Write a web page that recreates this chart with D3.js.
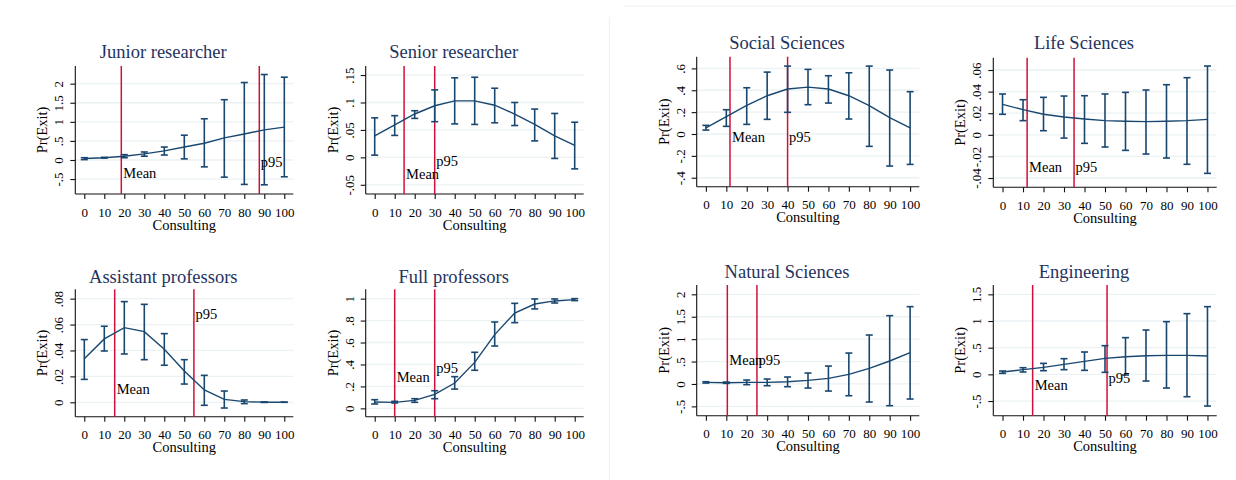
<!DOCTYPE html>
<html>
<head>
<meta charset="utf-8">
<script src="https://cdn.jsdelivr.net/npm/d3@7"></script>
<style>
  body { margin: 0; background: #fff; }
  svg text { font-family: "Liberation Serif", "Times New Roman", serif; }
</style>
</head>
<body>
<div id="chart"></div>
<script>
// Consulting levels (x axis)
const consulting = [0, 10, 20, 30, 40, 50, 60, 70, 80, 90, 100];
const xTicks = [0, 10, 20, 30, 40, 50, 60, 70, 80, 90, 100];

const panelTitles = ["Junior researcher", "Senior researcher", "Assistant professors", "Full professors",
                     "Social Sciences", "Life Sciences", "Natural Sciences", "Engineering"];

// predicted Pr(Exit) with 95% CI, one set per panel
const estJunior = [0.04, 0.06, 0.10, 0.16, 0.24, 0.34, 0.44, 0.58, 0.68, 0.79, 0.86];
const loJunior  = [0.01, 0.05, 0.06, 0.10, 0.13, 0.03, -0.18, -0.45, -0.64, -0.65, -0.44];
const hiJunior  = [0.06, 0.07, 0.14, 0.21, 0.34, 0.65, 1.08, 1.58, 2.03, 2.24, 2.17];

const estSenior = [0.039, 0.059, 0.079, 0.094, 0.103, 0.103, 0.095, 0.079, 0.060, 0.039, 0.022];
const loSenior  = [0.004, 0.040, 0.071, 0.065, 0.061, 0.060, 0.063, 0.058, 0.030, -0.002, -0.021];
const hiSenior  = [0.072, 0.076, 0.085, 0.123, 0.145, 0.146, 0.126, 0.100, 0.088, 0.080, 0.064];

const estAssist = [0.0337, 0.0489, 0.0576, 0.0545, 0.0409, 0.0242, 0.0095, 0.0023, 0.0005, 0.0001, 0.00003];
const loAssist  = [0.0177, 0.0396, 0.0373, 0.0329, 0.0286, 0.0141, -0.0023, -0.0044, -0.0010, -0.0001, 0];
const hiAssist  = [0.0484, 0.0587, 0.0777, 0.0756, 0.0530, 0.0329, 0.0208, 0.0087, 0.0018, 0.0003, 0.0001];

const estFull = [0.058, 0.055, 0.073, 0.128, 0.231, 0.419, 0.672, 0.869, 0.951, 0.979, 0.991];
const loFull  = [0.040, 0.049, 0.055, 0.088, 0.176, 0.347, 0.568, 0.781, 0.906, 0.960, 0.982];
const hiFull  = [0.079, 0.064, 0.088, 0.161, 0.289, 0.511, 0.787, 0.957, 0.997, 0.997, 0.9999];

const estSocial = [0.057, 0.158, 0.262, 0.350, 0.411, 0.429, 0.411, 0.350, 0.259, 0.149, 0.057];
const loSocial  = [0.036, 0.070, 0.088, 0.134, 0.198, 0.268, 0.283, 0.137, -0.113, -0.293, -0.278];
const hiSocial  = [0.079, 0.222, 0.423, 0.566, 0.621, 0.591, 0.533, 0.560, 0.621, 0.585, 0.387];

const estLife = [0.0282, 0.0233, 0.0190, 0.0165, 0.0146, 0.0131, 0.0125, 0.0122, 0.0125, 0.0131, 0.0143];
const loLife  = [0.0190, 0.0131, 0.0038, -0.0030, -0.0079, -0.0113, -0.0144, -0.0178, -0.0215, -0.0273, -0.0357];
const hiLife  = [0.0378, 0.0325, 0.0347, 0.0359, 0.0362, 0.0378, 0.0393, 0.0415, 0.0464, 0.0529, 0.0637];

const estNatural = [0.036, 0.028, 0.036, 0.036, 0.050, 0.080, 0.125, 0.214, 0.348, 0.512, 0.698];
const loNatural  = [0.020, 0.013, -0.016, -0.039, -0.061, -0.091, -0.158, -0.262, -0.403, -0.485, -0.336];
const hiNatural  = [0.050, 0.043, 0.088, 0.110, 0.155, 0.244, 0.400, 0.690, 1.092, 1.524, 1.725];

const estEng = [0.044, 0.088, 0.131, 0.188, 0.244, 0.300, 0.331, 0.350, 0.356, 0.356, 0.344];
const loEng  = [0.019, 0.044, 0.069, 0.088, 0.075, 0.038, -0.013, -0.125, -0.256, -0.419, -0.594];
const hiEng  = [0.063, 0.125, 0.206, 0.294, 0.419, 0.538, 0.688, 0.831, 0.988, 1.138, 1.269];

// y axis ticks and labels per panel
const yTicks = [
  [-0.5, 0, 0.5, 1, 1.5, 2],
  [-0.05, 0, 0.05, 0.1, 0.15],
  [0, 0.02, 0.04, 0.06, 0.08],
  [0, 0.2, 0.4, 0.6, 0.8, 1],
  [-0.4, -0.2, 0, 0.2, 0.4, 0.6],
  [-0.04, -0.02, 0, 0.02, 0.04, 0.06],
  [-0.5, 0, 0.5, 1, 1.5, 2],
  [-0.5, 0, 0.5, 1, 1.5]
];
const yTickLabels = [
  ["-.5", "0", ".5", "1", "1.5", "2"],
  ["-.05", "0", ".05", ".1", ".15"],
  ["0", ".02", ".04", ".06", ".08"],
  ["0", ".2", ".4", ".6", ".8", "1"],
  ["-.4", "-.2", "0", ".2", ".4", ".6"],
  ["-.04", "-.02", "0", ".02", ".04", ".06"],
  ["-.5", "0", ".5", "1", "1.5", "2"],
  ["-.5", "0", ".5", "1", "1.5"]
];
const yDomains = [
  [-0.891, 2.463], [-0.0668, 0.1665], [-0.0111, 0.0872], [-0.076, 1.085],
  [-0.482, 0.707], [-0.0486, 0.0714], [-0.708, 2.208], [-0.775, 1.675]
];

// reference lines (mean and 95th percentile of consulting) and where their labels sit
const meanLine = [18.5, 14.7, 15.2, 10, 11.8, 12.0, 10.5, 14.7];
const p95Line  = [87.5, 30, 54.8, 30, 40, 34.9, 25, 51];
const meanLabelY = [-0.48, -0.04, 0.0062, 0.243, -0.071, -0.034, 0.42, -0.29];
const p95LabelY  = [-0.19, -0.016, 0.064, 0.319, -0.071, -0.034, 0.42, -0.157];

const ests = [estJunior, estSenior, estAssist, estFull, estSocial, estLife, estNatural, estEng];
const los  = [loJunior, loSenior, loAssist, loFull, loSocial, loLife, loNatural, loEng];
const his  = [hiJunior, hiSenior, hiAssist, hiFull, hiSocial, hiLife, hiNatural, hiEng];

// plot boxes in page pixels
const boxes = [
  { left: 75.3, top: 66, right: 293.3, bottom: 194, titleY: 58.3 },
  { left: 365.7, top: 66, right: 583.7, bottom: 194, titleY: 58.3 },
  { left: 75.3, top: 289.3, right: 293.3, bottom: 416.7, titleY: 282.7 },
  { left: 365.7, top: 289.3, right: 583.7, bottom: 416.7, titleY: 282.7 },
  { left: 696.7, top: 56.7, right: 919.3, bottom: 186.7, titleY: 49.3 },
  { left: 993.3, top: 57.7, right: 1216.7, bottom: 187.3, titleY: 49.3 },
  { left: 696.7, top: 285, right: 919.3, bottom: 415.7, titleY: 278.3 },
  { left: 993.3, top: 285, right: 1216.7, bottom: 415.7, titleY: 278.3 }
];

const navy = "#1a476f";
const red = "#d0103a";
const grid = "#eaf2f3";

const svg = d3.select("#chart")
  .append("svg")
  .attr("width", 1236)
  .attr("height", 480);

// faint borders between the two source images
svg.append("line").attr("x1", 609.3).attr("x2", 609.3).attr("y1", 17).attr("y2", 480)
  .attr("stroke", "#eef1f1").attr("stroke-width", 1);
svg.append("line").attr("x1", 624).attr("x2", 1236).attr("y1", 6).attr("y2", 6)
  .attr("stroke", "#eef1f1").attr("stroke-width", 1);

boxes.forEach((b, i) => {
  const x = d3.scaleLinear().domain([-4.5, 104.5]).range([b.left, b.right]);
  const y = d3.scaleLinear().domain(yDomains[i]).range([b.bottom, b.top]);
  const g = svg.append("g");

  // gridlines
  g.selectAll(".grid")
    .data(yTicks[i])
    .enter()
    .append("line")
    .attr("x1", b.left).attr("x2", b.right)
    .attr("y1", d => y(d)).attr("y2", d => y(d))
    .attr("stroke", grid)
    .attr("stroke-width", 1.3);

  // y axis
  const ya = g.append("g")
    .attr("transform", `translate(${b.left},0)`)
    .call(d3.axisLeft(y).tickValues(yTicks[i]).tickSize(5).tickSizeOuter(0)
      .tickFormat((d, k) => yTickLabels[i][k]));
  ya.select(".domain").attr("d", `M0,${b.top}V${b.bottom}`);
  ya.selectAll("text")
    .attr("x", null).attr("dy", null)
    .attr("text-anchor", "middle")
    .attr("transform", "translate(-12,0) rotate(-90)")
    .style("font-size", "13px")
    .style("fill", "#000");

  // x axis
  const xa = g.append("g")
    .attr("transform", `translate(0,${b.bottom})`)
    .call(d3.axisBottom(x).tickValues(xTicks).tickSize(5).tickSizeOuter(0));
  xa.select(".domain").attr("d", `M${b.left},0H${b.right}`);
  xa.selectAll("text")
    .attr("y", 22.5).attr("dy", null)
    .style("font-size", "13px")
    .style("fill", "#000");
  g.selectAll(".domain, .tick line").attr("stroke", "#111").attr("stroke-width", 1.1);

  // axis titles
  g.append("text")
    .attr("transform", `translate(${b.left - 28},${(b.top + b.bottom) / 2}) rotate(-90)`)
    .attr("text-anchor", "middle")
    .style("font-size", "14.5px")
    .text("Pr(Exit)");
  g.append("text")
    .attr("x", (b.left + b.right) / 2)
    .attr("y", b.bottom + 35.5)
    .attr("text-anchor", "middle")
    .style("font-size", "14.5px")
    .text("Consulting");

  // panel title
  g.append("text")
    .attr("x", (b.left + b.right) / 2 - 21)
    .attr("y", b.titleY)
    .attr("text-anchor", "middle")
    .style("font-size", "18.5px")
    .style("fill", "#1f3360")
    .text(panelTitles[i]);

  // reference lines
  [meanLine[i], p95Line[i]].forEach(v => {
    g.append("line")
      .attr("x1", x(v)).attr("x2", x(v))
      .attr("y1", b.top).attr("y2", b.bottom)
      .attr("stroke", red)
      .attr("stroke-width", 1.5);
  });

  // confidence intervals
  const rows = consulting.map((c, k) => ({ c: c, est: ests[i][k], lo: los[i][k], hi: his[i][k] }));
  const cap = 3.5;
  const bars = g.selectAll(".ci").data(rows).enter().append("g");
  bars.append("line")
    .attr("x1", d => x(d.c)).attr("x2", d => x(d.c))
    .attr("y1", d => y(d.lo)).attr("y2", d => y(d.hi))
    .attr("stroke", navy).attr("stroke-width", 1.6);
  bars.append("line")
    .attr("x1", d => x(d.c) - cap).attr("x2", d => x(d.c) + cap)
    .attr("y1", d => y(d.lo)).attr("y2", d => y(d.lo))
    .attr("stroke", navy).attr("stroke-width", 1.6);
  bars.append("line")
    .attr("x1", d => x(d.c) - cap).attr("x2", d => x(d.c) + cap)
    .attr("y1", d => y(d.hi)).attr("y2", d => y(d.hi))
    .attr("stroke", navy).attr("stroke-width", 1.6);

  // predicted line
  g.append("path")
    .datum(rows)
    .attr("fill", "none")
    .attr("stroke", navy)
    .attr("stroke-width", 1.4)
    .attr("d", d3.line().x(d => x(d.c)).y(d => y(d.est)));

  // reference line labels
  g.append("text")
    .attr("x", x(meanLine[i]) + 2)
    .attr("y", y(meanLabelY[i]))
    .style("font-size", "14.5px")
    .text("Mean");
  g.append("text")
    .attr("x", x(p95Line[i]) + 1.5)
    .attr("y", y(p95LabelY[i]))
    .style("font-size", "14.5px")
    .text("p95");
});
</script>
</body>
</html>
